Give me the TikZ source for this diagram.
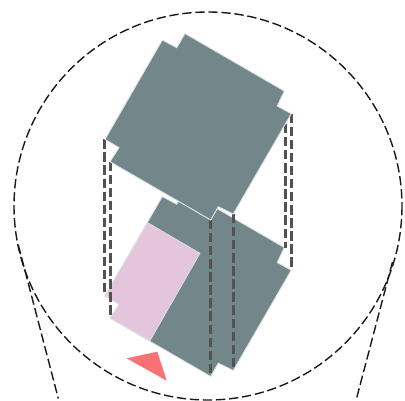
\documentclass[tikz,border=0pt]{standalone}
\definecolor{massc}{HTML}{738689}
\definecolor{edgec}{HTML}{DDE4E6}
\definecolor{pinkc}{HTML}{E3C5DC}
\definecolor{redc}{HTML}{F87174}
\tikzset{
  px/.style={x=0.75pt,y=-0.75pt},
  mass/.style={fill=massc,draw=edgec,line width=0.7pt},
  pinkarea/.style={fill=pinkc,draw=edgec,line width=0.5pt},
  guide/.style={draw=black!90,line width=1.05pt,dash pattern=on 7pt off 2.8pt},
  vguide/.style={guide,draw=black!68,line width=1.6pt},
}
\begin{document}
\begin{tikzpicture}[px]
\useasboundingbox (0,0) rectangle (405,401);
% lower mass
\path[mass] (185,190) -- (284.3,247.5) -- (277.3,262.5) -- (291.3,270.2) -- (233.3,370.5) -- (218.3,363.2) -- (210.7,376.5) -- (110,318.2) -- (119,304.2) -- (105,295.8) -- (162.3,196.5) -- (176.7,204.2) -- cycle;
% pink
\path[pinkarea] (147.7,222.7) -- (200,253.3) -- (150,340.7) -- (110,318.2) -- (119,304.2) -- (105,295.8) -- cycle;
% guides
\coordinate (a1) at (104.5,139.3); \coordinate (a2) at (104.5,295.8);
\coordinate (b1) at (110.5,161.7); \coordinate (b2) at (110.5,318.2);
\coordinate (c1) at (285.5,124); \coordinate (c2) at (285.5,247.5);
\coordinate (d1) at (291.5,113.7); \coordinate (d2) at (291.5,270.2);
\coordinate (e1) at (210.5,220); \coordinate (e2) at (210.5,376.5);
\coordinate (f1) at (233.5,214); \coordinate (f2) at (233.5,370.5);
\foreach \p/\q in {a1/a2,b1/b2,c1/c2,d1/d2,e1/e2,f1/f2} \draw[vguide] (\p) -- (\q);
% upper mass
\path[mass] (185,33.5) -- (284.3,91) -- (277.3,106) -- (291.3,113.7) -- (233.3,214) -- (218.3,206.7) -- (210.7,220) -- (110,161.7) -- (119,147.7) -- (105,139.3) -- (162.3,40) -- (176.7,47.7) -- cycle;
% triangle
\path[fill=redc] (126.7,358.3) -- (157.3,351.7) -- (166.7,380.7) -- cycle;
% circle and view lines
\draw[guide] (208,206) circle[radius=194];
\coordinate (l1) at (18.3,245); \coordinate (l2) at (58.3,398.5);
\coordinate (r1) at (392.5,262); \coordinate (r2) at (356,400.5);
\draw[guide] (l1) -- (l2);
\draw[guide] (r1) -- (r2);
\end{tikzpicture}
\end{document}
